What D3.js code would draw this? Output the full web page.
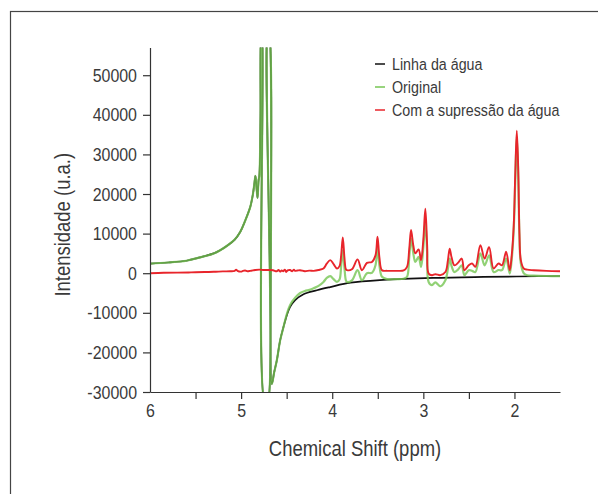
<html>
<head>
<meta charset="utf-8">
<title>Supressão da água</title>
<script src="https://d3js.org/d3.v7.min.js"></script>
<style>
	body { margin: 0; background: #fff; }
	svg text { font-family: "Liberation Sans", Arial, sans-serif; fill: #3a3a3a; }
	.axis path, .axis line { stroke: #333; stroke-width: 1.2; }
	.axis text { font-size: 19px; }
</style>
</head>
<body>
<svg id="chart" width="598" height="494"></svg>
<script>
// tick values
var yTicks = [-30000, -20000, -10000, 0, 10000, 20000, 30000, 40000, 50000];
var xTicks = [6, 5.5, 5, 4.5, 4, 3.5, 3, 2.5, 2];

var seriesNames = ["Linha da água", "Original", "Com a supressão da água"];
var seriesColors = ["#111111", "#76c653", "#e8252b"];

// [ppm, intensity]
var waterLine = [
	[6.0, 2400], [5.8, 2700], [5.6, 3150], [5.45, 4000], [5.3, 5000], [5.23, 5800],
	[5.15, 7000], [5.07, 8500], [5.01, 10400], [4.96, 13000], [4.9, 16700], [4.87, 20000],
	[4.855, 22500], [4.843, 24600], [4.832, 22000], [4.82, 19000], [4.808, 23500], [4.8, 24500],
	[4.792, 30000], [4.787, 40000], [4.776, 62000], [4.772, 62000], [4.738, -33000], [4.712, -33000],
	[4.706, 62000], [4.696, 62000], [4.663, -28000], [4.637, -25000], [4.608, -22000], [4.571, -16900],
	[4.535, -13600], [4.498, -10600], [4.462, -8500], [4.407, -6800], [4.315, -5300], [4.168, -4300],
	[4.022, -3500], [3.8, -2400], [3.44, -1700], [2.89, -1200], [2.34, -950], [1.5, -700]
];

var original = [
	[6.0, 2400], [5.8, 2700], [5.6, 3150], [5.45, 4000], [5.3, 5000], [5.23, 5800],
	[5.15, 7000], [5.07, 8500], [5.01, 10400], [4.96, 13000], [4.9, 16700], [4.87, 20000],
	[4.855, 22500], [4.843, 24600], [4.832, 22000], [4.82, 19000], [4.808, 23500], [4.8, 24500],
	[4.792, 30000], [4.787, 40000], [4.776, 62000], [4.772, 62000], [4.738, -33000], [4.712, -33000],
	[4.706, 62000], [4.696, 62000], [4.663, -28000], [4.637, -25000], [4.608, -22000], [4.571, -16900],
	[4.535, -13600], [4.498, -10300], [4.462, -8000], [4.407, -6200], [4.352, -5000], [4.3, -4500],
	[4.25, -4200], [4.205, -3800], [4.15, -3200], [4.096, -2200], [4.06, -1200], [4.022, -760],
	[3.985, -1500], [3.948, -2200], [3.92, -1600], [3.902, 1800], [3.884, 5800], [3.866, 1500],
	[3.85, -1800], [3.838, -2200], [3.784, -1800], [3.722, 760], [3.674, -1800], [3.619, 0],
	[3.564, 100], [3.525, 2000], [3.503, 6800], [3.482, 2000], [3.454, -900], [3.399, -1500],
	[3.3, -1500], [3.216, -1400], [3.179, -900], [3.155, 4000], [3.135, 8800], [3.11, 5000],
	[3.088, 2850], [3.052, 4100], [3.025, 1600], [3.0, 6500], [2.978, 13000], [2.958, 5000],
	[2.942, -2200], [2.905, -3000], [2.868, -2300], [2.813, -3300], [2.758, -1800], [2.73, 1200],
	[2.711, 3700], [2.69, 1800], [2.659, 300], [2.62, 900], [2.579, 2000], [2.549, -500],
	[2.502, 760], [2.465, 600], [2.429, 300], [2.374, 5000], [2.327, 2000], [2.278, 4500],
	[2.229, 300], [2.174, 800], [2.137, 760], [2.091, 3700], [2.052, -100], [2.03, 3500],
	[2.008, 11000], [1.99, 24000], [1.974, 34500], [1.958, 24000], [1.945, 9000], [1.93, 2500],
	[1.898, 0], [1.86, -500], [1.788, -600], [1.65, -700], [1.5, -760]
];

var suppressed = [
	[6.0, 0], [5.85, 100], [5.7, 150], [5.55, 200], [5.4, 300], [5.3, 350], [5.2, 450],
	[5.12, 500], [5.07, 600], [5.055, 900], [5.04, 600], [5.0, 400], [4.98, 600], [4.956, 700],
	[4.93, 500], [4.9, 600], [4.87, 700], [4.846, 800], [4.8, 900], [4.75, 800], [4.7, 800],
	[4.65, 750], [4.61, 500], [4.59, 800], [4.571, 400], [4.555, 700], [4.538, 500], [4.52, 900],
	[4.505, 300], [4.49, 700], [4.462, 800], [4.44, 500], [4.42, 900], [4.407, 600], [4.38, 700],
	[4.352, 760], [4.3, 500], [4.25, 650], [4.205, 600], [4.15, 800], [4.096, 1200], [4.06, 2400],
	[4.022, 3300], [3.985, 2300], [3.948, 1200], [3.92, 1800], [3.902, 4500], [3.884, 9000],
	[3.866, 4000], [3.85, 1000], [3.838, 760], [3.784, 1000], [3.722, 3500], [3.674, 760],
	[3.619, 2600], [3.564, 2850], [3.525, 4500], [3.503, 9200], [3.482, 4000], [3.454, 760],
	[3.399, 600], [3.3, 600], [3.216, 700], [3.179, 1600], [3.155, 6000], [3.135, 10900],
	[3.11, 7000], [3.088, 5000], [3.052, 6000], [3.025, 3300], [3.0, 8500], [2.978, 16300],
	[2.958, 7000], [2.942, -100], [2.905, -500], [2.868, -250], [2.813, -500], [2.758, 300],
	[2.73, 3300], [2.711, 6200], [2.69, 4000], [2.659, 2000], [2.62, 2600], [2.579, 3700],
	[2.549, 760], [2.502, 2000], [2.465, 2450], [2.429, 1600], [2.374, 7100], [2.327, 3700],
	[2.278, 6600], [2.229, 1200], [2.174, 2450], [2.137, 2000], [2.091, 5400], [2.052, 760],
	[2.03, 4500], [2.008, 12000], [1.99, 26000], [1.974, 36000], [1.958, 26000], [1.945, 10000],
	[1.93, 3300], [1.898, 1200], [1.86, 900], [1.788, 760], [1.65, 600], [1.5, 500]
];

function draw() {
	var svg = d3.select("#chart");
	var squeeze = 0.84;   // the original font is a condensed face

	// outer frame
	svg.append("rect")
		.attr("x", 10.5).attr("y", 11.5)
		.attr("width", 620).attr("height", 520)
		.attr("fill", "none").attr("stroke", "#444").attr("stroke-width", 1.2);

	var pLeft = 150, pRight = 560, pTop = 47.5, pBottom = 392;

	var x = d3.scaleLinear().domain([6, 1.5]).range([pLeft, pRight]);
	var y = d3.scaleLinear().domain([-30000, 57000]).range([pBottom, pTop]);

	svg.append("clipPath").attr("id", "plot")
		.append("rect").attr("x", pLeft).attr("y", pTop)
		.attr("width", pRight - pLeft).attr("height", pBottom - pTop);

	var line = d3.line()
		.x(function(d) { return x(d[0]); })
		.y(function(d) { return y(d[1]); })
		.curve(d3.curveCatmullRom.alpha(0.5));

	var lines = svg.append("g").attr("clip-path", "url(#plot)");

	lines.append("path").datum(waterLine)
		.attr("d", line).attr("fill", "none")
		.attr("stroke", seriesColors[0]).attr("stroke-width", 1.7);

	lines.append("path").datum(original)
		.attr("d", line).attr("fill", "none")
		.attr("stroke", seriesColors[1]).attr("stroke-opacity", 0.8).attr("stroke-width", 2.2);

	lines.append("path").datum(suppressed)
		.attr("d", line).attr("fill", "none")
		.attr("stroke", seriesColors[2]).attr("stroke-width", 1.9);

	// Y axis
	var yAxis = svg.append("g").attr("class", "axis")
		.attr("transform", "translate(" + pLeft + ",0)")
		.call(d3.axisLeft(y).tickValues(yTicks).tickSize(7).tickSizeOuter(0).tickPadding(6)
			.tickFormat(function(d) { return String(d); }));
	yAxis.selectAll(".tick text")
		.attr("transform", "translate(-13,0) scale(" + squeeze + ",1)")
		.attr("x", 0);

	// X axis
	var xAxis = svg.append("g").attr("class", "axis")
		.attr("transform", "translate(0," + pBottom + ")")
		.call(d3.axisBottom(x).tickValues(xTicks).tickSize(7).tickSizeOuter(0).tickPadding(5)
			.tickFormat(function(d) { return d % 1 === 0 ? String(d) : ""; }));
	xAxis.selectAll(".tick line").filter(function(d) { return d === 6; }).remove();
	xAxis.selectAll(".tick text").attr("transform", "scale(" + squeeze + ",1)");

	// axis titles
	svg.append("text")
		.attr("transform", "translate(" + ((pLeft + pRight) / 2) + ",456) scale(" + squeeze + ",1)")
		.attr("text-anchor", "middle")
		.style("font-size", "22px")
		.text("Chemical Shift (ppm)");

	svg.append("text")
		.attr("transform", "translate(70," + ((pTop + pBottom) / 2 + 5) + ") rotate(-90) scale(" + squeeze + ",1)")
		.attr("text-anchor", "middle")
		.style("font-size", "22px")
		.text("Intensidade (u.a.)");

	// legend
	var legend = svg.append("g").attr("transform", "translate(375,64)");
	seriesNames.forEach(function(name, i) {
		var row = legend.append("g").attr("transform", "translate(0," + (i * 23) + ")");
		row.append("line").attr("x1", 0).attr("x2", 10).attr("y1", 0).attr("y2", 0)
			.attr("stroke", seriesColors[i]).attr("stroke-width", 1.5);
		row.append("text")
			.attr("transform", "translate(17,0) scale(" + squeeze + ",1)")
			.attr("dy", "0.36em")
			.style("font-size", "17px")
			.text(name);
	});
}

draw();
</script>
</body>
</html>
